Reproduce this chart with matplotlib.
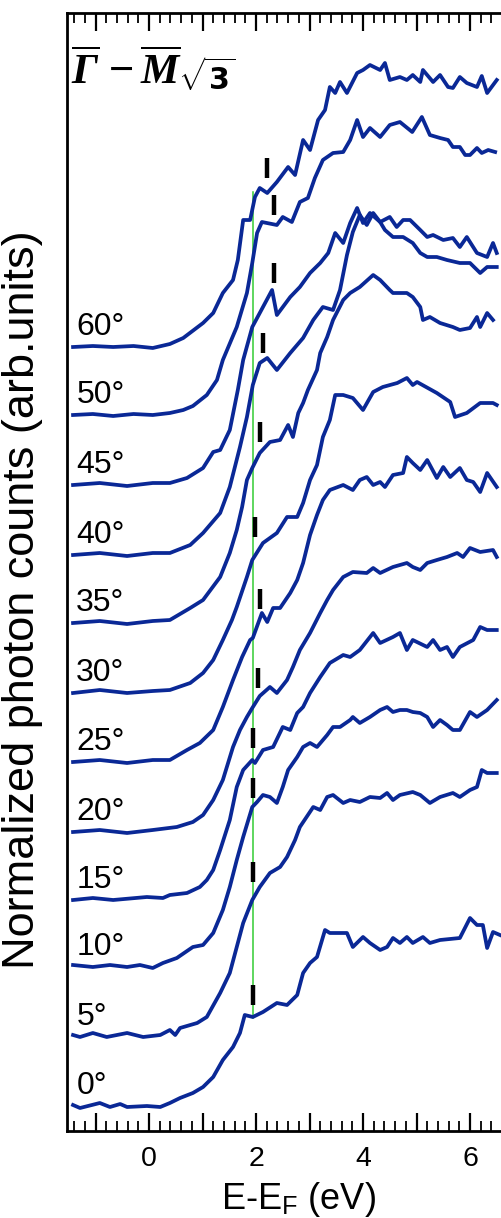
import numpy as np
import matplotlib
matplotlib.use("Agg")
import matplotlib.pyplot as plt
from matplotlib.ticker import MultipleLocator, FuncFormatter

plt.rcParams['font.family'] = ['Liberation Sans', 'DejaVu Sans']
plt.rcParams['mathtext.fontset'] = 'custom'
plt.rcParams['mathtext.rm'] = 'Liberation Sans'
plt.rcParams['mathtext.it'] = 'Liberation Serif:italic'
plt.rcParams['mathtext.bf'] = 'Liberation Serif:italic:bold'
plt.rcParams['mathtext.sf'] = 'DejaVu Sans:bold'

# emission angles and vertical offsets of each spectrum (arb. units)
angles = ['0°', '5°', '10°', '15°', '20°', '25°', '30°', '35°', '40°', '45°', '50°', '60°']
offsets = [0, 69, 139, 206, 274, 344, 413, 483, 551, 621, 691, 759]

# spectra: energy E-E_F (eV) and normalized counts above each baseline
e_00 = [-1.42, -1.29, -0.92, -0.73, -0.54, -0.41, -0.04, 0.21, 0.39, 0.58, 0.82, 1.01, 1.20, 1.38, 1.57, 1.70, 1.79, 1.94, 2.13, 2.39, 2.58, 2.77, 2.88, 3.01, 3.14, 3.29, 3.38, 3.70, 3.81, 4.00, 4.13, 4.32, 4.45, 4.56, 4.69, 4.82, 4.93, 5.12, 5.25, 5.44, 5.81, 6.00, 6.13, 6.24, 6.32, 6.43, 6.56]
c_00 = [1, -2, 3, -1, 2, -1, 0, -1, 3, 8, 13, 19, 29, 46, 59, 73, 91, 89, 94, 103, 101, 111, 133, 143, 149, 176, 173, 173, 159, 169, 163, 156, 159, 168, 163, 169, 163, 169, 163, 166, 168, 188, 181, 181, 158, 174, 171]

e_05 = [-1.42, -1.29, -1.05, -0.79, -0.41, -0.11, 0.21, 0.39, 0.49, 0.58, 0.90, 1.08, 1.33, 1.51, 1.64, 1.76, 1.93, 2.07, 2.26, 2.45, 2.58, 2.73, 2.82, 3.07, 3.20, 3.33, 3.44, 3.63, 3.76, 3.94, 4.13, 4.32, 4.45, 4.56, 4.69, 4.93, 5.07, 5.25, 5.44, 5.68, 5.81, 6.00, 6.13, 6.22, 6.32, 6.50]
c_05 = [2, 0, 4, 0, 4, 0, 2, 7, 2, 9, 14, 20, 44, 64, 90, 114, 137, 150, 164, 170, 180, 197, 210, 230, 227, 240, 242, 234, 237, 235, 240, 239, 244, 237, 242, 245, 242, 234, 240, 244, 240, 247, 250, 267, 264, 264]

e_10 = [-1.42, -1.05, -0.73, -0.41, -0.17, 0.07, 0.26, 0.52, 0.82, 1.01, 1.20, 1.38, 1.51, 1.64, 1.76, 1.93, 2.02, 2.13, 2.26, 2.39, 2.50, 2.60, 2.77, 2.88, 3.01, 3.14, 3.33, 3.44, 3.57, 3.76, 3.81, 3.94, 4.13, 4.32, 4.45, 4.56, 4.69, 4.82, 4.93, 5.07, 5.20, 5.31, 5.44, 5.57, 5.68, 5.81, 6.00, 6.13, 6.32, 6.50]
c_10 = [2, 0, 2, 0, 2, -1, 4, 9, 20, 22, 34, 57, 80, 107, 130, 160, 165, 172, 170, 164, 180, 197, 210, 220, 224, 220, 232, 240, 240, 247, 250, 244, 250, 257, 260, 255, 257, 257, 255, 254, 250, 240, 247, 242, 237, 237, 255, 250, 257, 267]

e_15 = [-1.42, -1.05, -0.67, -0.04, 0.26, 0.39, 0.71, 0.95, 1.08, 1.20, 1.33, 1.51, 1.64, 1.76, 1.93, 1.98, 2.13, 2.32, 2.50, 2.64, 2.77, 2.88, 3.01, 3.20, 3.38, 3.63, 3.76, 3.94, 4.19, 4.32, 4.56, 4.69, 4.82, 4.93, 5.20, 5.31, 5.44, 5.57, 5.68, 5.81, 6.06, 6.19, 6.32, 6.50]
c_15 = [0, 2, 0, 3, 2, 5, 7, 13, 20, 30, 50, 80, 113, 130, 140, 137, 150, 153, 173, 170, 187, 193, 207, 223, 237, 245, 243, 250, 267, 257, 263, 267, 250, 260, 253, 260, 250, 253, 243, 253, 260, 273, 270, 270]

e_20 = [-1.42, -0.92, -0.41, 0.07, 0.52, 0.82, 1.01, 1.20, 1.38, 1.57, 1.70, 1.83, 1.93, 2.07, 2.26, 2.39, 2.58, 2.69, 2.82, 3.01, 3.20, 3.33, 3.44, 3.63, 3.81, 4.07, 4.19, 4.32, 4.56, 4.82, 4.93, 5.07, 5.20, 5.38, 5.57, 5.76, 5.87, 6.00, 6.19, 6.43, 6.50]
c_20 = [0, 2, -1, 2, 5, 10, 17, 32, 52, 85, 102, 115, 124, 136, 145, 139, 152, 165, 182, 199, 219, 232, 242, 255, 260, 259, 264, 259, 265, 269, 265, 262, 269, 272, 275, 279, 275, 284, 280, 282, 275]

e_25 = [-1.42, -0.92, -0.41, 0.07, 0.39, 0.71, 0.95, 1.20, 1.38, 1.57, 1.74, 1.89, 1.94, 2.11, 2.21, 2.32, 2.45, 2.64, 2.77, 2.88, 3.01, 3.14, 3.25, 3.38, 3.63, 3.81, 3.94, 4.07, 4.19, 4.32, 4.41, 4.56, 4.75, 4.82, 4.93, 5.07, 5.20, 5.38, 5.50, 5.63, 5.81, 5.94, 6.06, 6.19, 6.32, 6.50]
c_25 = [0, 2, -1, 2, 2, 12, 19, 32, 55, 82, 105, 122, 124, 149, 140, 154, 154, 169, 182, 199, 227, 247, 262, 272, 277, 272, 282, 285, 277, 280, 275, 287, 289, 305, 299, 292, 302, 284, 295, 285, 294, 282, 280, 270, 289, 275]

e_30 = [-1.42, -0.92, -0.41, 0.07, 0.39, 0.77, 1.01, 1.20, 1.38, 1.55, 1.64, 1.83, 1.93, 2.13, 2.39, 2.58, 2.77, 2.88, 3.01, 3.14, 3.25, 3.38, 3.48, 3.63, 3.81, 4.00, 4.19, 4.37, 4.64, 4.82, 4.93, 5.01, 5.38, 5.63, 5.72, 5.94, 6.19, 6.43, 6.50]
c_30 = [0, 3, 0, 2, 3, 10, 20, 33, 53, 73, 86, 116, 133, 150, 160, 176, 176, 190, 213, 228, 256, 273, 298, 298, 295, 283, 301, 306, 310, 315, 308, 311, 300, 291, 276, 280, 290, 290, 288]

e_35 = [-1.42, -0.92, -0.41, 0.07, 0.39, 0.77, 1.01, 1.33, 1.51, 1.64, 1.74, 1.83, 1.93, 2.07, 2.26, 2.45, 2.60, 2.69, 2.79, 2.88, 2.97, 3.14, 3.20, 3.33, 3.44, 3.63, 3.76, 3.94, 4.19, 4.32, 4.50, 4.56, 4.82, 4.93, 5.07, 5.12, 5.25, 5.44, 5.68, 5.81, 6.00, 6.13, 6.19, 6.32, 6.43]
c_35 = [0, 2, -1, 2, 3, 15, 23, 46, 70, 93, 116, 143, 155, 170, 181, 183, 198, 186, 210, 220, 233, 253, 270, 286, 303, 323, 330, 336, 348, 343, 333, 330, 330, 326, 316, 303, 306, 300, 296, 293, 295, 306, 296, 310, 303]

e_40 = [-1.42, -0.92, -0.41, 0.07, 0.39, 0.77, 1.01, 1.33, 1.51, 1.70, 1.83, 1.94, 2.07, 2.21, 2.39, 2.64, 2.88, 3.07, 3.25, 3.44, 3.57, 3.70, 3.81, 3.94, 4.07, 4.19, 4.32, 4.41, 4.56, 4.75, 4.93, 5.07, 5.20, 5.38, 5.57, 5.81, 6.00, 6.19, 6.32, 6.50]
c_40 = [0, 2, -1, 2, 2, 10, 22, 42, 68, 108, 138, 170, 192, 197, 185, 202, 217, 235, 248, 245, 265, 300, 323, 340, 330, 342, 333, 325, 318, 318, 312, 302, 298, 298, 295, 292, 292, 282, 288, 288]

e_45 = [-1.42, -0.92, -0.41, 0.07, 0.39, 0.71, 1.01, 1.20, 1.33, 1.51, 1.66, 1.76, 1.93, 2.13, 2.30, 2.39, 2.64, 2.82, 3.01, 3.20, 3.35, 3.48, 3.63, 3.76, 3.89, 4.00, 4.13, 4.32, 4.50, 4.63, 4.75, 4.88, 5.07, 5.20, 5.31, 5.50, 5.68, 5.81, 5.94, 6.13, 6.32, 6.43, 6.50]
c_45 = [0, 2, -1, 2, 2, 7, 17, 33, 35, 55, 95, 125, 158, 178, 195, 170, 188, 198, 212, 222, 232, 252, 242, 262, 277, 262, 272, 263, 268, 258, 265, 265, 255, 248, 250, 245, 247, 238, 248, 232, 228, 242, 232]

e_50 = [-1.42, -1.05, -0.67, -0.29, 0.07, 0.39, 0.64, 0.82, 1.08, 1.27, 1.38, 1.64, 1.83, 1.93, 2.02, 2.11, 2.39, 2.50, 2.67, 2.82, 2.97, 3.10, 3.25, 3.44, 3.63, 3.76, 3.89, 4.00, 4.13, 4.32, 4.50, 4.69, 4.92, 5.10, 5.25, 5.44, 5.59, 5.68, 5.81, 5.91, 6.00, 6.13, 6.22, 6.34, 6.47]
c_50 = [0, 1, -1, 1, 0, 2, 5, 9, 20, 35, 55, 88, 122, 152, 182, 193, 190, 198, 193, 213, 217, 237, 255, 262, 263, 275, 295, 278, 287, 278, 290, 293, 283, 298, 280, 277, 275, 268, 268, 260, 260, 267, 262, 265, 263]

e_60 = [-1.42, -1.05, -0.67, -0.29, 0.07, 0.39, 0.64, 1.01, 1.20, 1.38, 1.57, 1.66, 1.76, 1.89, 1.98, 2.07, 2.21, 2.39, 2.60, 2.73, 2.88, 3.01, 3.16, 3.29, 3.38, 3.48, 3.57, 3.70, 3.89, 4.00, 4.13, 4.32, 4.41, 4.50, 4.69, 4.82, 4.93, 5.07, 5.12, 5.31, 5.44, 5.59, 5.68, 5.81, 5.94, 6.13, 6.22, 6.32, 6.50]
c_60 = [0, 1, 0, 1, -1, 3, 9, 24, 34, 54, 67, 87, 127, 127, 150, 159, 154, 165, 180, 172, 207, 197, 227, 237, 260, 254, 265, 254, 274, 277, 282, 277, 284, 267, 270, 267, 272, 265, 277, 265, 272, 260, 259, 270, 264, 260, 271, 254, 267]

energies = [e_00, e_05, e_10, e_15, e_20, e_25, e_30, e_35, e_40, e_45, e_50, e_60]
counts = [c_00, c_05, c_10, c_15, c_20, c_25, c_30, c_35, c_40, c_45, c_50, c_60]

# feature markers: energy and height above each baseline
mark_e = [1.94, 1.94, 1.94, 1.95, 2.04, 2.07, 1.98, 2.07, 2.13, 2.34, 2.34, 2.21]
mark_h = [111, 165, 179, 162, 154, 163, 166, 191, 212, 212, 210, 179]

# guide line through the kinks
guide_e = 1.94
guide_y = (88, 914)

blue = '#0a2896'

fig = plt.figure(figsize=(5.02, 12.18), dpi=100)
ax = fig.add_axes([67 / 502, 1 - 1131 / 1218, 1 - 67 / 502, (1131 - 13) / 1218])

for e, c, off, lab in zip(energies, counts, offsets, angles):
    ax.plot(e, off + np.asarray(c), color=blue, lw=2.7,
            solid_joinstyle='round', zorder=3)
    ax.text(-1.36, off + 12, lab, fontsize=23, ha='left', va='baseline', zorder=4)

for e, h, off in zip(mark_e, mark_h, offsets):
    ax.plot([e, e], [off + h - 10, off + h + 10], color='black', lw=3.2,
            solid_capstyle='butt', zorder=5)

ax.plot([guide_e, guide_e], guide_y, color='#33cc33', lw=1.1, zorder=2)

ax.set_xlim(-1.533, 6.598)
ax.set_ylim(-25, 1093)
ax.set_yticks([])
ax.xaxis.set_major_locator(MultipleLocator(1))
ax.xaxis.set_minor_locator(MultipleLocator(0.2))
ax.xaxis.set_major_formatter(FuncFormatter(
    lambda v, p: f'{int(round(v))}' if int(round(v)) % 2 == 0 else ''))
ax.tick_params(axis='x', which='both', direction='in', top=True, bottom=True,
               labelsize=20.5, pad=11)
ax.tick_params(axis='x', which='major', length=13, width=1.6)
ax.tick_params(axis='x', which='minor', length=7, width=1.3)
for side in ('left', 'top', 'bottom'):
    ax.spines[side].set_linewidth(2.0)
ax.spines['right'].set_visible(False)

ax.set_xlabel(r'E-E$_\mathregular{F}$ (eV)', fontsize=26)
ax.xaxis.set_label_coords(0.533, -0.0435)
ax.set_ylabel('Normalized photon counts (arb.units)', fontsize=32.5)
ax.yaxis.set_label_coords(-0.056, 0.475)

ax.text(0.010, 0.936, r'$\overline{\mathbf{\Gamma}}\,-\overline{\mathbf{M}}_{\sqrt{\mathsf{3}}}$',
        transform=ax.transAxes, fontsize=31, ha='left', va='baseline')

fig.savefig('out.png', dpi=100)
